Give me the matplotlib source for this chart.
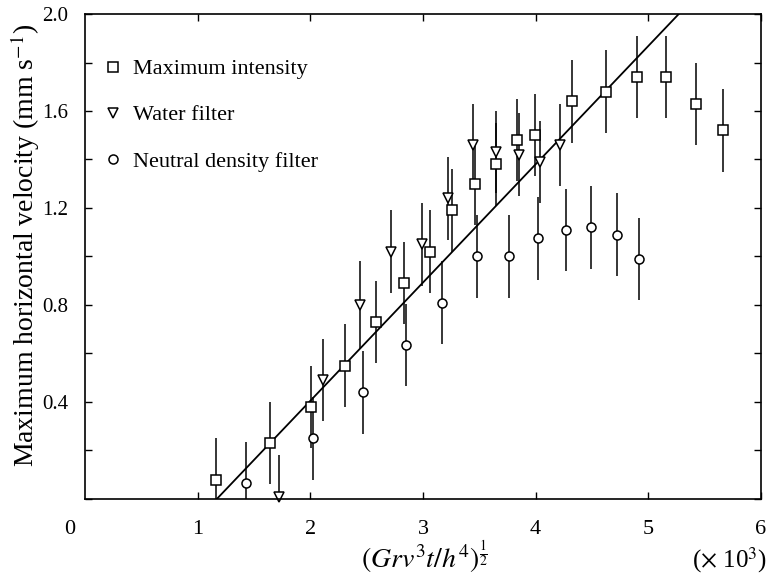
import matplotlib.pyplot as plt
from matplotlib.ticker import MultipleLocator

plt.rcParams['font.family'] = ['Liberation Serif', 'DejaVu Serif']
plt.rcParams['mathtext.fontset'] = 'stix'

# maximum intensity
sq_x = [1.16, 1.64, 2.01, 2.31, 2.58, 2.83, 3.06, 3.26, 3.46, 3.65, 3.83, 3.99,
        4.32, 4.62, 4.90, 5.16, 5.42, 5.66]
sq_y = [0.08, 0.23, 0.38, 0.55, 0.73, 0.89, 1.02, 1.19, 1.30, 1.38, 1.48, 1.50,
        1.64, 1.68, 1.74, 1.74, 1.63, 1.52]
sq_err = [0.17, 0.17, 0.17, 0.17, 0.17, 0.17, 0.17, 0.17, 0.17, 0.17, 0.17, 0.17,
          0.17, 0.17, 0.17, 0.17, 0.17, 0.17]

# water filter
tri_x = [1.72, 2.11, 2.44, 2.72, 2.99, 3.22, 3.44, 3.65, 3.85, 4.04, 4.22]
tri_y = [0.01, 0.49, 0.80, 1.02, 1.05, 1.24, 1.46, 1.43, 1.42, 1.39, 1.46]
tri_err = [0.17, 0.17, 0.18, 0.17, 0.17, 0.17, 0.17, 0.17, 0.17, 0.17, 0.17]

# neutral density filter
cir_x = [1.43, 2.02, 2.47, 2.85, 3.17, 3.48, 3.76, 4.02, 4.27, 4.49, 4.72, 4.92]
cir_y = [0.065, 0.25, 0.44, 0.635, 0.81, 1.00, 1.00, 1.075, 1.11, 1.12, 1.09, 0.99]
cir_err = [0.17, 0.17, 0.17, 0.17, 0.17, 0.17, 0.17, 0.17, 0.17, 0.17, 0.17, 0.17]

# fitted line
fit_x = [1.17, 5.27]
fit_y = [0.0, 2.0]

fig = plt.figure(figsize=(7.67, 5.74), dpi=100)
ax = fig.add_axes([0.1108, 0.1307, 0.8814, 0.8449])

ax.plot(fit_x, fit_y, color='black', lw=1.3)

common = dict(color='black', ecolor='black', elinewidth=1.1, capsize=0,
              mfc='white', mec='black', mew=1.1, linestyle='none')
h1 = ax.errorbar(sq_x, sq_y, yerr=sq_err, marker='s', ms=7, **common)
h2 = ax.errorbar(tri_x, tri_y, yerr=tri_err, marker='v', ms=7.5, **common)
h3 = ax.errorbar(cir_x, cir_y, yerr=cir_err, marker='o', ms=6.5, **common)
for h in (h1, h2, h3):
    h[0].set_clip_on(False)

ax.set_xlim(0, 6)
ax.set_ylim(0, 2.0)
ax.xaxis.set_major_locator(MultipleLocator(1))
ax.yaxis.set_major_locator(MultipleLocator(0.4))
ax.yaxis.set_minor_locator(MultipleLocator(0.2))
ax.tick_params(which='both', direction='in', top=True, right=True,
               length=5, width=1)
ax.tick_params(axis='x', pad=15, labelsize=16)
ax.tick_params(axis='y', pad=12, labelsize=15)
ax.set_xticks([1, 2, 3, 4, 5, 6])
ax.set_yticks([0.4, 0.8, 1.2, 1.6, 2.0])
ax.set_yticklabels(['0.4', '0.8', '1.2', '1.6', '2.0'])
ax.annotate('0', xy=(0, 0), xytext=(-11, -15), textcoords='offset points',
            ha='center', va='top', fontsize=16)
for s in ax.spines.values():
    s.set_linewidth(1.2)

fig.text(0.033, 0.573, 'Maximum horizontal velocity (mm s$^{-1}$)', fontsize=20,
         rotation=90, ha='center', va='center')
fig.text(0.553, 0.012, r'$(Grv^3t/h^4)^{\frac{1}{2}}$', fontsize=20,
         ha='center', va='baseline')
fig.text(1.0, 0.012, r'($\times$ 10$^3$)', fontsize=18, ha='right', va='baseline')

leg = ax.legend([h1[0], h2[0], h3[0]],
                ['Maximum intensity', 'Water filter', 'Neutral density filter'],
                loc='upper left', bbox_to_anchor=(0.0114, 0.926), frameon=False,
                fontsize=16, handlelength=1.0, handletextpad=0.4,
                labelspacing=1.15, borderaxespad=0)

fig.savefig('out.png', dpi=100)
